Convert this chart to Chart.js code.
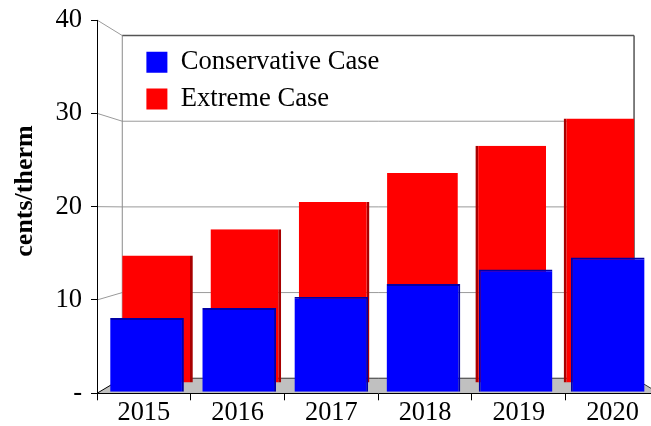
<!DOCTYPE html>
<html><head><meta charset="utf-8">
<script src="https://cdn.jsdelivr.net/npm/chart.js@4"></script>
<style>
html,body{margin:0;padding:0;overflow:hidden;background:#fff;width:651px;height:426px}
#wrap{width:660px;height:426px}
</style></head>
<body><div id="wrap"><canvas id="c" width="660" height="426"></canvas></div>
<script>
// ---- data ----
const years = ['2015','2016','2017','2018','2019','2020'];
const conservative = [8.1, 9.2, 10.4, 11.8, 13.4, 14.7];
const extreme = [14.5, 17.5, 20.6, 23.9, 27.0, 30.1];
const yTicks = [0, 10, 20, 30, 40];
const yTickLabels = ['-', '10', '20', '30', '40'];
const seriesNames = ['Conservative Case', 'Extreme Case'];
const yTitle = 'cents/therm';

// ---- pseudo 3D depth planes (screen mapping of each depth row) ----
const depth = {
  front: {a: 5.6, b: 5.7, sx: 0.983, sy: 0.983},
  back:  {a: 22,  b: 12.6, sx: 0.942, sy: 0.942},
  wall:  {a: 34,  b: 17.2, sx: 0.91,  sy: 0.918}
};
const FONT = 'Liberation Serif';

function W(x, y) { const t = depth.wall; return [t.a + t.sx * x, t.b + t.sy * y]; }
function line(ctx, p, q, color, w) {
  ctx.beginPath(); ctx.moveTo(p[0], p[1]); ctx.lineTo(q[0], q[1]);
  ctx.strokeStyle = color; ctx.lineWidth = w || 1; ctx.stroke();
}

const depthPlugin = {
  id: 'depth3d',
  afterLayout(chart) {
    const lg = chart.legend;
    if (lg) {
      lg.left = 136.3; lg.top = 38.8;
      lg.right = lg.left + lg.width; lg.bottom = lg.top + lg.height;
    }
  },
  beforeDraw(chart) {
    const ctx = chart.ctx, ca = chart.chartArea, ys = chart.scales.y;
    const L = ca.left, R = ca.right, B = ys.getPixelForValue(0), T = ys.getPixelForValue(40);
    ctx.save();
    // back wall
    const tl = W(L, T), tr = W(R, T), bl = W(L, B), br = W(R, B);
    ctx.fillStyle = '#ffffff';
    ctx.fillRect(tl[0], tl[1], tr[0] - tl[0], bl[1] - tl[1]);
    // gridlines on back wall + side diagonals
    yTicks.forEach(v => {
      const py = ys.getPixelForValue(v);
      if (v > 0 && v < 40) line(ctx, W(L, py), W(R, py), '#9a9a9a', 1);
      if (v > 0) line(ctx, [L, py], W(L, py), '#9a9a9a', 1);
    });
    // floor
    ctx.beginPath();
    ctx.moveTo(L, B); ctx.lineTo(R, B); ctx.lineTo(br[0], br[1]); ctx.lineTo(bl[0], bl[1]); ctx.closePath();
    ctx.fillStyle = '#c0c0c0'; ctx.fill();
    line(ctx, bl, br, '#333333', 1);
    line(ctx, [L, B], bl, '#000000', 1);
    line(ctx, [R, B], br, '#333333', 1);
    // wall borders
    line(ctx, tl, bl, '#8a8a8a', 1);
    line(ctx, tl, tr, '#555555', 1.5);
    line(ctx, tr, br, '#555555', 1.5);
    ctx.restore();
  },
  beforeDatasetDraw(chart, args) {
    const t = args.index === 0 ? depth.front : depth.back;
    const ctx = chart.ctx;
    ctx.save();
    ctx.translate(t.a, t.b);
    ctx.scale(t.sx, t.sy);
  },
  afterDatasetDraw(chart) { chart.ctx.restore(); },
  afterDraw(chart) {
    const ctx = chart.ctx;
    ctx.save();
    ctx.translate(25, 191);
    ctx.rotate(-Math.PI / 2);
    ctx.font = 'bold 26px "' + FONT + '"';
    ctx.fillStyle = '#000';
    ctx.textAlign = 'center';
    ctx.textBaseline = 'middle';
    ctx.fillText(yTitle, 0, 0);
    ctx.restore();
  }
};

new Chart(document.getElementById('c'), {
  type: 'bar',
  data: {
    labels: years,
    datasets: [
      {
        label: seriesNames[0], data: conservative,
        backgroundColor: '#0000ff', borderColor: '#0000a8',
        borderWidth: c => ({top: 2, left: c.dataIndex >= 4 ? 2 : 0, right: c.dataIndex < 4 ? 2 : 0, bottom: 0}),
        borderSkipped: 'start',
        barPercentage: 0.80, categoryPercentage: 1, grouped: false, clip: false
      },
      {
        label: seriesNames[1], data: extreme,
        backgroundColor: '#ff0000', borderColor: '#a80000',
        borderWidth: c => ({top: 0, left: c.dataIndex >= 4 ? 3 : 0, right: c.dataIndex <= 2 ? 3 : 0, bottom: 0}),
        borderSkipped: 'start',
        barPercentage: 0.80, categoryPercentage: 1, grouped: false, clip: false
      }
    ]
  },
  options: {
    responsive: false,
    animation: false,
    devicePixelRatio: 1,
    layout: {padding: {top: 20, right: 0.6, left: 0, bottom: 0}},
    plugins: {
      tooltip: {enabled: false},
      title: {display: false},
      legend: {
        position: 'chartArea', align: 'start',
        labels: {
          boxWidth: 21, boxHeight: 21, padding: 10.1, color: '#000',
          font: {family: FONT, size: 26.6},
          generateLabels: chart => Chart.defaults.plugins.legend.labels.generateLabels(chart)
            .map(it => Object.assign(it, {lineWidth: 0, strokeStyle: it.fillStyle}))
        }
      }
    },
    scales: {
      x: {
        offset: true,
        grid: {offset: true, drawOnChartArea: false, drawTicks: true, tickLength: 7, color: '#000'},
        border: {color: '#000', width: 1},
        ticks: {font: {family: FONT, size: 26.4}, color: '#000', padding: -3, maxRotation: 0, autoSkip: false},
        afterFit: s => { s.height = 32.7; s.paddingLeft = 0; s.paddingRight = 0; }
      },
      y: {
        min: 0, max: 40,
        afterBuildTicks: s => { s.ticks = yTicks.map(v => ({value: v})); },
        grid: {drawOnChartArea: false, drawTicks: true, tickLength: 6, color: '#000'},
        border: {color: '#000', width: 1},
        ticks: {
          font: {family: FONT, size: 26.6}, color: '#000', padding: 9,
          callback: v => yTickLabels[yTicks.indexOf(v)]
        },
        afterFit: s => { s.width = 97; s.paddingTop = 0; s.paddingBottom = 0; }
      }
    }
  },
  plugins: [depthPlugin]
});
</script>
</body></html>
